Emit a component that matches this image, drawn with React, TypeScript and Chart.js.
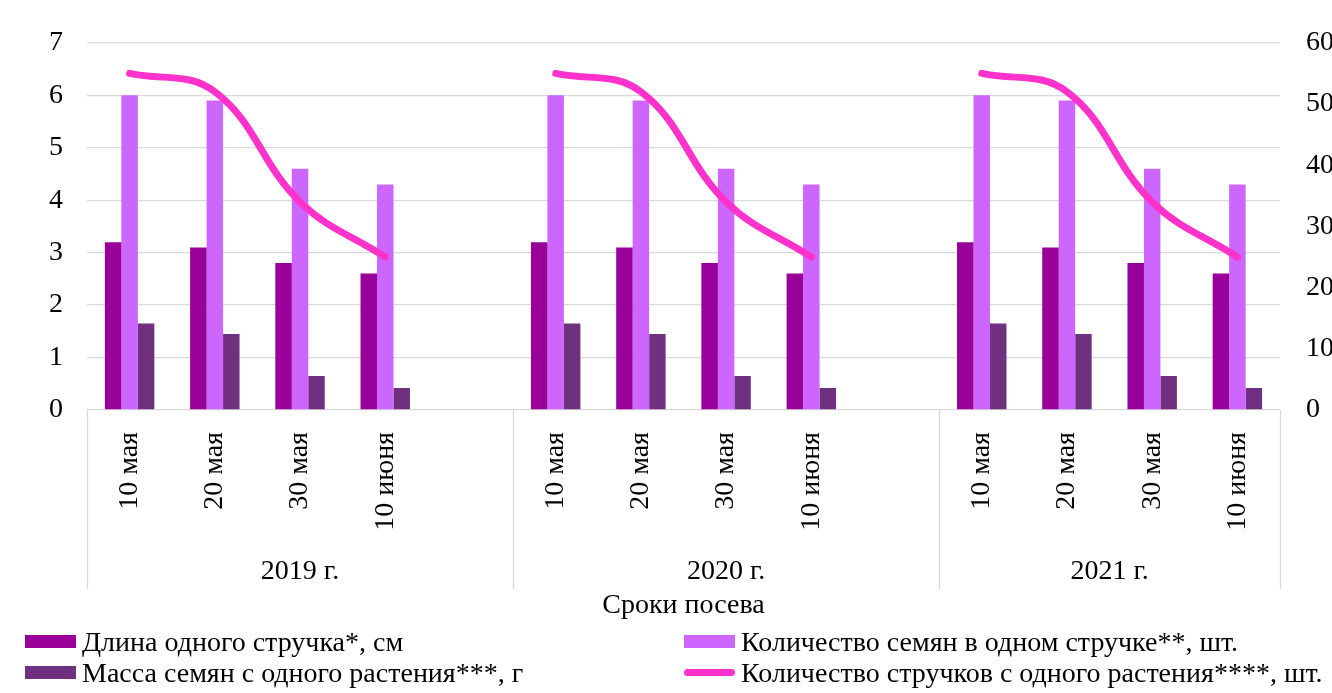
import { useEffect, useRef } from 'react';
import { Chart, registerables } from 'chart.js';

Chart.register(...registerables);

const years = ['2019 г.', '2020 г.', '2021 г.'];
const sowingDates = ['10 мая', '20 мая', '30 мая', '10 июня'];

const podLength = [3.2, 3.1, 2.8, 2.6, 3.2, 3.1, 2.8, 2.6, 3.2, 3.1, 2.8, 2.6];
const seedsPerPod = [6.0, 5.9, 4.6, 4.3, 6.0, 5.9, 4.6, 4.3, 6.0, 5.9, 4.6, 4.3];
const seedMass = [1.65, 1.45, 0.65, 0.42, 1.65, 1.45, 0.65, 0.42, 1.65, 1.45, 0.65, 0.42];
const podsPerPlant = [55, 52, 34, 25, 55, 52, 34, 25, 55, 52, 34, 25];

const leftAxisMax = 7;
const rightAxisMax = 60;

const seriesNames = [
  'Длина одного стручка*, см',
  'Количество семян в одном стручке**, шт.',
  'Масса семян с одного растения***, г',
  'Количество стручков с одного растения****, шт.',
];
const xAxisTitle = 'Сроки посева';

const COLORS = {
  length: '#990099',
  seeds: '#CC66FF',
  mass: '#703080',
  line: '#FF33CC',
  grid: '#d9d9d9',
};

const FONT = '"Liberation Serif", "Times New Roman", serif';
const FS = 28;

// build category list with an empty slot between year groups
const labels: string[] = [];
const groupBounds: number[] = [-0.5];
years.forEach((_, y) => {
  sowingDates.forEach((d) => labels.push(d));
  if (y < years.length - 1) {
    labels.push('');
  }
  groupBounds.push(labels.length - 0.5);
});

function withGaps(values: number[]): (number | null)[] {
  const out: (number | null)[] = [];
  years.forEach((_, y) => {
    sowingDates.forEach((_, d) => out.push(values[y * sowingDates.length + d]));
    if (y < years.length - 1) out.push(null);
  });
  return out;
}

const groupPlugin = {
  id: 'groupPlugin',
  afterDraw(chart: any) {
    const ctx = chart.ctx;
    const x = chart.scales.x;
    const area = chart.chartArea;
    const step = x.getPixelForValue(1) - x.getPixelForValue(0);
    const p0 = x.getPixelForValue(0);
    const pix = (v: number) => p0 + v * step;
    ctx.save();
    ctx.strokeStyle = COLORS.grid;
    ctx.lineWidth = 1.3;
    groupBounds.forEach((b) => {
      const px = Math.round(pix(b)) + 0.5;
      ctx.beginPath();
      ctx.moveTo(px, area.bottom);
      ctx.lineTo(px, 589);
      ctx.stroke();
    });
    ctx.fillStyle = '#000';
    ctx.font = `${FS}px ${FONT}`;
    ctx.textAlign = 'center';
    ctx.textBaseline = 'middle';
    years.forEach((yr, i) => {
      const cx = (pix(groupBounds[i]) + pix(groupBounds[i + 1])) / 2;
      ctx.fillText(yr, cx, 572);
    });
    ctx.fillText(xAxisTitle, (area.left + area.right) / 2, 606);
    ctx.restore();
  },
};

export default function App() {
  const ref = useRef<HTMLCanvasElement | null>(null);
  useEffect(() => {
    if (!ref.current) return;
    const chart = new Chart(ref.current, {
      type: 'bar',
      data: {
        labels,
        datasets: [
          {
            type: 'line',
            label: seriesNames[3],
            data: withGaps(podsPerPlant),
            yAxisID: 'y1',
            borderColor: COLORS.line,
            backgroundColor: COLORS.line,
            borderWidth: 7,
            tension: 0.4,
            pointRadius: 0,
            borderCapStyle: 'round',
            spanGaps: false,
            order: 0,
          } as any,
          {
            label: seriesNames[0],
            data: withGaps(podLength),
            backgroundColor: COLORS.length,
            yAxisID: 'y',
            order: 1,
          },
          {
            label: seriesNames[1],
            data: withGaps(seedsPerPod),
            backgroundColor: COLORS.seeds,
            yAxisID: 'y',
            order: 1,
          },
          {
            label: seriesNames[2],
            data: withGaps(seedMass),
            backgroundColor: COLORS.mass,
            yAxisID: 'y',
            order: 1,
          },
        ],
      },
      options: {
        animation: false,
        responsive: false,
        maintainAspectRatio: false,
        layout: { padding: { top: 42, left: 0, right: 0, bottom: 0 } },
        datasets: { bar: { categoryPercentage: 0.58, barPercentage: 1 } },
        plugins: { legend: { display: false }, tooltip: { enabled: false } },
        scales: {
          x: {
            grid: { display: false },
            border: { display: false },
            ticks: {
              autoSkip: false,
              minRotation: 90,
              maxRotation: 90,
              padding: 14,
              color: '#000',
              font: { family: FONT, size: FS },
            },
            afterFit(scale: any) {
              scale.height = 693 - 410;
            },
          },
          y: {
            position: 'left',
            min: 0,
            max: leftAxisMax,
            ticks: { stepSize: 1, padding: 24, color: '#000', font: { family: FONT, size: FS } },
            grid: { color: COLORS.grid, lineWidth: 1.3, drawTicks: false },
            border: { display: false },
            afterFit(scale: any) {
              scale.width = 87;
            },
          },
          y1: {
            position: 'right',
            min: 0,
            max: rightAxisMax,
            ticks: { stepSize: 10, padding: 26, color: '#000', font: { family: FONT, size: FS } },
            grid: { display: false, drawTicks: false },
            border: { display: false },
            afterFit(scale: any) {
              scale.width = 52;
            },
          },
        },
      },
      plugins: [groupPlugin],
    });
    return () => chart.destroy();
  }, []);

  const legendItem = (i: number, color: string, isLine: boolean, left: number, top: number) => (
    <div
      key={i}
      style={{
        position: 'absolute',
        left,
        top,
        height: 31,
        display: 'flex',
        alignItems: 'center',
        whiteSpace: 'nowrap',
        fontFamily: FONT,
        fontSize: FS,
        color: '#000',
      }}
    >
      <span
        style={{
          display: 'inline-block',
          width: 51,
          height: isLine ? 7 : 13,
          borderRadius: isLine ? 4 : 0,
          background: color,
          marginRight: 6,
        }}
      />
      {seriesNames[i]}
    </div>
  );

  return (
    <div style={{ position: 'fixed', left: 0, top: 0, width: 1332, height: 693, background: '#fff' }}>
      <canvas ref={ref} width={1332} height={693} style={{ position: 'absolute', left: 0, top: 0 }} />
      {legendItem(0, COLORS.length, false, 25, 626)}
      {legendItem(1, COLORS.seeds, false, 684, 626)}
      {legendItem(2, COLORS.mass, false, 25, 657)}
      {legendItem(3, COLORS.line, true, 684, 657)}
    </div>
  );
}
